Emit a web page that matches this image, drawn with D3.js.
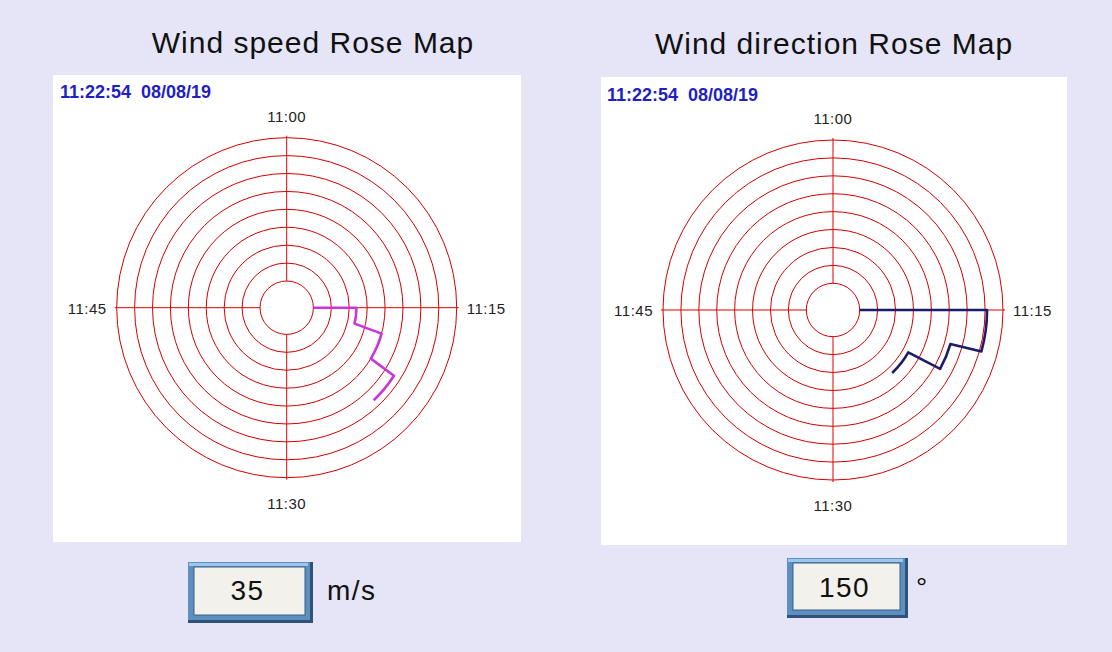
<!DOCTYPE html>
<html>
<head>
<meta charset="utf-8">
<script src="https://cdn.jsdelivr.net/npm/d3@7"></script>
<style>
  body { margin: 0; background: #e5e5f7; }
  svg { display: block; font-family: 'Liberation Sans', Arial, sans-serif; }
</style>
</head>
<body>
<div id="chart"></div>
<script>
// Wind rose maps: time runs clockwise around the dial (one hour), radius = value

// Dial labels (top, right, bottom, left)
const hourLabels = ['11:00', '11:15', '11:30', '11:45'];
const stampText = '11:22:54  08/08/19';

// Wind speed readings (minutes past 11:00, m/s)
const speedMinutes = [15, 15, 17.2, 17.55, 20.2, 20.4, 22.8];
const speedValues = [0, 15, 15, 25, 25, 35, 35];

// Wind direction readings (minutes past 11:00, degrees)
const dirMinutes = [15, 15, 17.6, 17.7, 19.8, 19.9, 22.8];
const dirValues = [0, 320, 320, 240, 240, 150, 150];

// Current readings shown under each map
const speedNow = 35;
const dirNow = 150;

const width = 1112;
const height = 652;

const svg = d3.select('#chart')
    .append('svg')
    .attr('width', width)
    .attr('height', height);

svg.append('rect')
    .attr('width', width)
    .attr('height', height)
    .attr('fill', '#e5e5f7');

const innerR = 26.7;
const outerR = 170;
const rings = 9;

function drawRose(cfg) {
    // Title
    svg.append('text')
        .attr('x', cfg.titleX)
        .attr('y', cfg.titleY)
        .attr('text-anchor', 'middle')
        .style('font-size', '30px')
        .style('letter-spacing', '1px')
        .attr('fill', '#111')
        .text(cfg.title);

    // White panel
    svg.append('rect')
        .attr('x', cfg.panel[0])
        .attr('y', cfg.panel[1])
        .attr('width', cfg.panel[2])
        .attr('height', cfg.panel[3])
        .attr('fill', '#ffffff');

    // Timestamp
    svg.append('text')
        .attr('x', cfg.stampX)
        .attr('y', cfg.stampY)
        .style('font-size', '18px')
        .style('font-weight', 'bold')
        .style('white-space', 'pre')
        .attr('fill', '#1f1fc4')
        .text(stampText);

    const angle = d3.scaleLinear().domain([0, 60]).range([0, 2 * Math.PI]);
    const r = d3.scaleLinear().domain([0, cfg.max]).range([innerR, outerR]);

    const g = svg.append('g')
        .attr('transform', `translate(${cfg.cx}, ${cfg.cy})`);

    // Rings
    const ringValues = d3.range(rings).map(i => i * cfg.max / (rings - 1));
    g.selectAll('.ring')
        .data(ringValues)
        .enter()
        .append('circle')
        .attr('class', 'ring')
        .attr('r', d => r(d))
        .attr('fill', 'none')
        .attr('stroke', '#d40000')
        .attr('stroke-width', 1);

    // Quarter-hour spokes
    const quarters = [0, 15, 30, 45];
    g.selectAll('.spoke')
        .data(quarters)
        .enter()
        .append('line')
        .attr('class', 'spoke')
        .attr('x1', d => r(0) * Math.sin(angle(d)))
        .attr('y1', d => -r(0) * Math.cos(angle(d)))
        .attr('x2', d => (r(cfg.max) + 2) * Math.sin(angle(d)))
        .attr('y2', d => -(r(cfg.max) + 2) * Math.cos(angle(d)))
        .attr('stroke', '#e00000')
        .attr('stroke-width', 1);

    // Dial labels
    const labelPos = [
        { x: 0, y: -outerR - 16, anchor: 'middle' },
        { x: outerR + 10, y: 6, anchor: 'start' },
        { x: 0, y: outerR + 31, anchor: 'middle' },
        { x: -outerR - 10, y: 6, anchor: 'end' }
    ];
    g.selectAll('.dial-label')
        .data(hourLabels)
        .enter()
        .append('text')
        .attr('class', 'dial-label')
        .attr('x', (d, i) => labelPos[i].x)
        .attr('y', (d, i) => labelPos[i].y)
        .attr('text-anchor', (d, i) => labelPos[i].anchor)
        .style('font-size', '15px')
        .style('letter-spacing', '0.5px')
        .attr('fill', '#222')
        .text(d => d);

    // Trace: constant value -> arc, change -> straight step
    const p = d3.path();
    const pt = i => [r(cfg.values[i]) * Math.sin(angle(cfg.minutes[i])),
                     -r(cfg.values[i]) * Math.cos(angle(cfg.minutes[i]))];
    p.moveTo(...pt(0));
    for (let i = 1; i < cfg.values.length; i++) {
        if (cfg.values[i] === cfg.values[i - 1]) {
            p.arc(0, 0, r(cfg.values[i]),
                angle(cfg.minutes[i - 1]) - Math.PI / 2,
                angle(cfg.minutes[i]) - Math.PI / 2);
        } else {
            p.lineTo(...pt(i));
        }
    }
    g.append('path')
        .attr('d', p.toString())
        .attr('fill', 'none')
        .attr('stroke', cfg.color)
        .attr('stroke-width', 2.6)
        .attr('stroke-linejoin', 'round');

    // Readout box with bevel
    const b = cfg.box;
    const box = svg.append('g');
    box.append('rect')
        .attr('x', b.x).attr('y', b.y)
        .attr('width', b.w).attr('height', b.h)
        .attr('fill', '#2f5378');
    box.append('rect')
        .attr('x', b.x).attr('y', b.y)
        .attr('width', b.w - 3).attr('height', b.h - 3)
        .attr('fill', '#5d8fc0');
    box.append('rect')
        .attr('x', b.x + 1).attr('y', b.y + 1)
        .attr('width', b.w - 6).attr('height', 3)
        .attr('fill', '#9cc6ee');
    box.append('rect')
        .attr('x', b.x + 6).attr('y', b.y + 5)
        .attr('width', b.w - 14).attr('height', b.h - 13)
        .attr('fill', '#f3f1ec')
        .attr('stroke', '#3b5f86')
        .attr('stroke-width', 1);
    box.append('text')
        .attr('x', b.x + b.w / 2 - 3)
        .attr('y', b.textY)
        .attr('text-anchor', 'middle')
        .style('font-size', '28px')
        .style('letter-spacing', '1.5px')
        .attr('fill', '#111')
        .text(cfg.now);
    box.append('text')
        .attr('x', b.unitX)
        .attr('y', b.textY)
        .style('font-size', '28px')
        .style('letter-spacing', '1.5px')
        .attr('fill', '#111')
        .text(cfg.unit);
}

drawRose({
    title: 'Wind speed Rose Map',
    titleX: 313, titleY: 53,
    panel: [53, 75, 468, 467],
    stampX: 60, stampY: 98,
    cx: 286.7, cy: 307.7,
    max: 50,
    minutes: speedMinutes,
    values: speedValues,
    color: '#c936dc',
    now: speedNow,
    unit: 'm/s',
    box: { x: 188, y: 562, w: 125, h: 61, textY: 600, unitX: 327 }
});

drawRose({
    title: 'Wind direction Rose Map',
    titleX: 834, titleY: 54,
    panel: [601, 77, 466, 468],
    stampX: 607, stampY: 101,
    cx: 833, cy: 310,
    max: 360,
    minutes: dirMinutes,
    values: dirValues,
    color: '#1c1c68',
    now: dirNow,
    unit: '°',
    box: { x: 787, y: 558, w: 121, h: 60, textY: 597, unitX: 916 }
});
</script>
</body>
</html>
